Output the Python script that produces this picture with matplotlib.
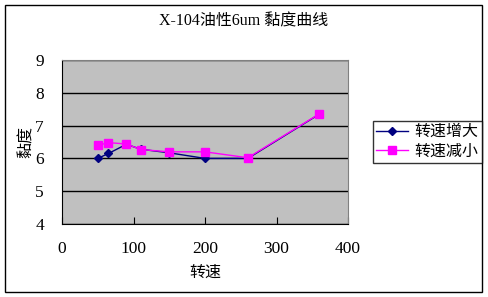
import matplotlib
matplotlib.use("Agg")
import matplotlib.pyplot as plt
from matplotlib.patches import Rectangle

speed = [50, 65, 90, 110, 150, 200, 260, 360]
visc_up = [6.0, 6.15, 6.43, 6.28, 6.17, 6.0, 6.0, 7.35]
visc_down = [6.4, 6.48, 6.44, 6.27, 6.2, 6.2, 6.02, 7.36]
labels = ["转速增大", "转速减小"]
title = "X-104油性6um 黏度曲线"
xlabel = "转速"
ylabel = "黏度"

fam = ['Liberation Serif', 'Noto Sans CJK SC']
plt.rcParams['font.family'] = fam

W, H = 488, 297
fig = plt.figure(figsize=(W / 100, H / 100), dpi=100)
fig.patch.set_facecolor('white')

# outer border
fig.patches.append(Rectangle((5 / W, 1 - 292 / H), 477 / W, 287 / H,
                             transform=fig.transFigure, fill=False,
                             edgecolor='black', linewidth=1.0))

left, right, top, bottom = 62, 348, 60, 224
ax = fig.add_axes([left / W, 1 - bottom / H, (right - left) / W, (bottom - top) / H])
ax.set_facecolor('#c0c0c0')
ax.plot(speed, visc_up, color='#000080', marker='D', markersize=4, linewidth=1,
        label=labels[0], zorder=3)
ax.plot(speed, visc_down, color='#ff00ff', marker='s', markersize=6, linewidth=1,
        label=labels[1], zorder=4)
ax.set_xlim(0, 400)
ax.set_ylim(4, 9)
ax.set_xticks([0, 100, 200, 300, 400])
ax.set_yticks([4, 5, 6, 7, 8, 9])
ax.yaxis.grid(True, color='black', linewidth=1)
ax.set_axisbelow(True)
for s in ['top', 'right']:
    ax.spines[s].set_color('#808080')
for s in ['left', 'bottom']:
    ax.spines[s].set_color('black')
ax.tick_params(axis='x', direction='in', length=5, labelsize=12.5, pad=12)
ax.tick_params(axis='y', length=0, labelsize=12.5, pad=13)
ax.set_xlabel(xlabel, fontsize=11.5, labelpad=6)
ax.set_ylabel(ylabel, fontsize=11.5, labelpad=0)
fig.text(W / 2 / W, 1 - 21 / H, title, ha='center', va='center',
         fontsize=11.5)

leg = fig.legend(loc='upper left', bbox_to_anchor=(373 / W, 1 - 121 / H),
                 fontsize=11.5, frameon=True, fancybox=False, edgecolor='black',
                 handlelength=2.0, borderpad=0.2, labelspacing=0.2,
                 handletextpad=0.4, borderaxespad=0)
leg.get_frame().set_linewidth(1)

fig.savefig('out.png', dpi=100)
